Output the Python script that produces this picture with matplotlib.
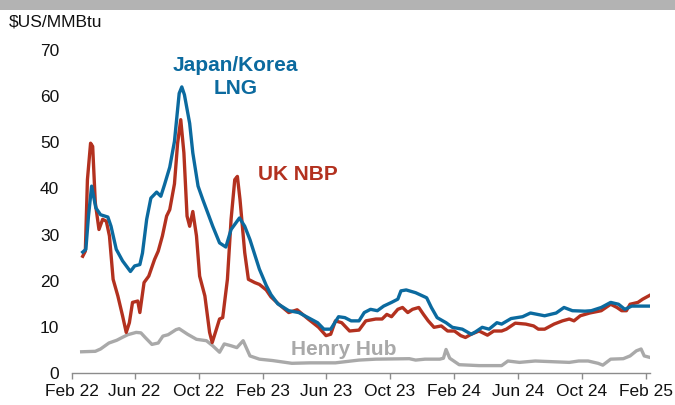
import matplotlib
matplotlib.use("Agg")
import matplotlib.pyplot as plt
import matplotlib.dates as mdates
import pandas as pd

plt.rcParams["font.family"] = ["Liberation Sans", "DejaVu Sans"]

BLUE = "#0b6a9f"
RED = "#b3311f"
GREY = "#a9a9a9"
TEXT_COLOR = "#111111"

# Japan/Korea LNG, $US/MMBtu
lng_dates = [
    "2022-02-22", "2022-02-28", "2022-03-05", "2022-03-11", "2022-03-19", "2022-03-28",
    "2022-04-11", "2022-04-17", "2022-04-27", "2022-05-09", "2022-05-24", "2022-06-01",
    "2022-06-11", "2022-06-16", "2022-06-24", "2022-07-02", "2022-07-13", "2022-07-21",
    "2022-07-28", "2022-08-07", "2022-08-16", "2022-08-25", "2022-08-30", "2022-09-04",
    "2022-09-14", "2022-09-20", "2022-09-30", "2022-10-09", "2022-10-28", "2022-11-10",
    "2022-11-22", "2022-12-02", "2022-12-18", "2022-12-28", "2023-01-07", "2023-01-25",
    "2023-02-07", "2023-02-16", "2023-03-01", "2023-03-22", "2023-04-10", "2023-04-28",
    "2023-05-16", "2023-05-28", "2023-06-10", "2023-06-25", "2023-07-07", "2023-07-19",
    "2023-08-03", "2023-08-13", "2023-08-25", "2023-09-07", "2023-09-19", "2023-10-04",
    "2023-10-16", "2023-10-22", "2023-11-01", "2023-11-19", "2023-12-10", "2023-12-19",
    "2023-12-30", "2024-01-16", "2024-01-28", "2024-02-16", "2024-03-04", "2024-03-12",
    "2024-03-25", "2024-04-07", "2024-04-22", "2024-05-01", "2024-05-19", "2024-06-10",
    "2024-06-25", "2024-07-22", "2024-08-13", "2024-08-28", "2024-09-13", "2024-10-07",
    "2024-10-19", "2024-11-07", "2024-11-25", "2024-12-10", "2024-12-22", "2025-01-04",
    "2025-02-07",
]
lng_values = [
    26.2, 26.8, 34.0, 40.5, 35.8, 34.3,
    33.8, 31.8, 26.8, 24.3, 22.0, 23.2,
    23.5, 26.0, 33.3, 37.9, 39.2, 38.3,
    40.8, 44.6, 50.2, 60.6, 62.0, 60.3,
    54.1, 47.7, 40.5, 37.6, 31.8, 28.2,
    27.3, 31.1, 33.6, 31.8, 28.9, 22.5,
    19.0, 17.0, 15.0, 13.5, 13.1, 12.0,
    10.9, 9.5, 9.5, 12.2, 12.0, 11.3,
    11.3, 13.1, 13.8, 13.5, 14.5, 15.3,
    16.0, 17.8, 18.0, 17.4, 16.3, 14.2,
    12.0, 10.9, 9.9, 9.5, 8.4, 8.9,
    9.9, 9.5, 10.9, 10.6, 11.8, 12.2,
    13.0, 12.4, 13.0, 14.2, 13.5, 13.4,
    13.5, 14.2, 15.3, 14.9, 13.8, 14.5,
    14.5,
]

# UK NBP
nbp_dates = [
    "2022-02-22", "2022-02-27", "2022-03-03", "2022-03-09", "2022-03-13", "2022-03-18",
    "2022-03-25", "2022-04-01", "2022-04-08", "2022-04-14", "2022-04-21", "2022-04-30",
    "2022-05-09", "2022-05-16", "2022-05-22", "2022-05-28", "2022-06-07", "2022-06-11",
    "2022-06-19", "2022-06-28", "2022-07-09", "2022-07-16", "2022-07-24", "2022-08-01",
    "2022-08-07", "2022-08-16", "2022-08-22", "2022-08-28", "2022-09-03", "2022-09-09",
    "2022-09-14", "2022-09-20", "2022-09-27", "2022-10-03", "2022-10-13", "2022-10-22",
    "2022-10-27", "2022-11-04", "2022-11-10", "2022-11-16", "2022-11-25", "2022-12-02",
    "2022-12-09", "2022-12-14", "2022-12-19", "2022-12-28", "2023-01-04", "2023-01-16",
    "2023-01-25", "2023-02-07", "2023-02-16", "2023-03-03", "2023-03-22", "2023-04-07",
    "2023-04-28", "2023-05-18", "2023-06-01", "2023-06-10", "2023-06-19", "2023-07-01",
    "2023-07-16", "2023-08-03", "2023-08-16", "2023-09-04", "2023-09-16", "2023-09-25",
    "2023-10-04", "2023-10-16", "2023-10-25", "2023-11-04", "2023-11-13", "2023-11-25",
    "2023-12-04", "2023-12-13", "2023-12-24", "2024-01-07", "2024-01-19", "2024-02-01",
    "2024-02-13", "2024-02-22", "2024-03-04", "2024-03-19", "2024-04-04", "2024-04-16",
    "2024-05-01", "2024-05-10", "2024-05-27", "2024-06-16", "2024-07-01", "2024-07-10",
    "2024-07-22", "2024-08-09", "2024-08-25", "2024-09-07", "2024-09-16", "2024-09-28",
    "2024-10-16", "2024-11-07", "2024-11-25", "2024-12-07", "2024-12-16", "2024-12-25",
    "2025-01-01", "2025-01-16", "2025-01-25", "2025-02-07",
]
nbp_values = [
    25.3, 26.4, 41.9, 49.8, 49.1, 36.9,
    31.1, 33.3, 32.9, 29.7, 20.3, 16.7,
    12.4, 8.8, 10.9, 15.3, 15.6, 13.1,
    19.6, 21.0, 24.6, 26.4, 29.7, 34.0,
    35.4, 41.0, 49.8, 54.9, 47.7, 34.0,
    31.8, 35.0, 29.7, 21.0, 16.7, 8.8,
    6.6, 9.5, 11.7, 12.0, 20.3, 33.3,
    41.9, 42.6, 37.6, 26.1, 20.3, 19.6,
    19.2, 18.0, 16.5, 14.9, 13.1, 13.7,
    11.7, 9.9, 8.1, 8.4, 11.3, 10.9,
    9.1, 9.3, 11.3, 11.7, 11.7, 12.7,
    12.2, 13.8, 14.2, 13.1, 13.8, 14.2,
    12.7, 11.3, 9.9, 10.2, 9.1, 9.1,
    8.1, 7.7, 8.4, 9.1, 8.2, 9.1,
    9.1, 9.5, 10.8, 10.6, 10.2, 9.5,
    9.5, 10.6, 11.3, 11.7, 11.3, 12.4,
    13.0, 13.5, 14.9, 14.2, 13.5, 13.5,
    14.9, 15.3, 16.0, 16.8,
]

# Henry Hub
hh_dates = [
    "2022-02-20", "2022-03-18", "2022-03-28", "2022-04-13", "2022-04-28", "2022-05-10",
    "2022-05-19", "2022-06-04", "2022-06-13", "2022-06-22", "2022-07-04", "2022-07-16",
    "2022-07-25", "2022-08-04", "2022-08-19", "2022-08-25", "2022-09-10", "2022-09-27",
    "2022-10-16", "2022-10-28", "2022-11-10", "2022-11-19", "2022-12-02", "2022-12-13",
    "2022-12-25", "2023-01-07", "2023-01-25", "2023-02-19", "2023-03-28", "2023-05-01",
    "2023-06-19", "2023-08-03", "2023-09-04", "2023-11-07", "2023-11-19", "2023-12-07",
    "2024-01-04", "2024-01-11", "2024-01-16", "2024-01-23", "2024-02-10", "2024-03-19",
    "2024-05-01", "2024-05-13", "2024-06-04", "2024-07-04", "2024-09-07", "2024-09-25",
    "2024-10-13", "2024-11-01", "2024-11-10", "2024-11-25", "2024-12-19", "2025-01-01",
    "2025-01-13", "2025-01-22", "2025-01-28", "2025-02-07",
]
hh_values = [
    4.6, 4.7, 5.2, 6.5, 7.1, 7.8,
    8.3, 8.8, 8.7, 7.6, 6.2, 6.5,
    8.0, 8.3, 9.4, 9.6, 8.4, 7.3,
    7.0, 5.9, 4.5, 6.3, 5.9, 5.5,
    7.0, 3.7, 3.0, 2.7, 2.1, 2.2,
    2.2, 2.8, 3.0, 3.1, 2.8, 3.0,
    3.0, 3.2, 5.1, 3.2, 1.8, 1.6,
    1.6, 2.6, 2.3, 2.6, 2.3, 2.6,
    2.6, 2.1, 1.7, 3.0, 3.1, 3.7,
    4.8, 5.2, 3.7, 3.4,
]

y_ticks = [0, 10, 20, 30, 40, 50, 60, 70]

fig = plt.figure(figsize=(6.75, 4.05), dpi=100)
fig.patch.set_facecolor("white")
# cropped grey title band at top
fig.patches.append(plt.Rectangle((0, 1 - 10 / 405), 1, 10 / 405, transform=fig.transFigure,
                                 facecolor="#b3b3b3", edgecolor="none"))

ax = fig.add_axes([71.7 / 675, 32 / 405, (650 - 71.7) / 675, 323 / 405])

ax.plot(pd.to_datetime(hh_dates), hh_values, color=GREY, linewidth=2.4, zorder=2)
ax.plot(pd.to_datetime(nbp_dates), nbp_values, color=RED, linewidth=2.4, zorder=3)
ax.plot(pd.to_datetime(lng_dates), lng_values, color=BLUE, linewidth=2.4, zorder=4)

ax.set_xlim(pd.Timestamp("2022-02-01"), pd.Timestamp("2025-02-08"))
ax.set_ylim(0, 70)
ax.set_yticks(y_ticks)

ax.xaxis.set_major_locator(mdates.MonthLocator(bymonth=[2, 6, 10]))
ax.xaxis.set_major_formatter(mdates.DateFormatter("%b %y"))

for s in ["top", "right", "left"]:
    ax.spines[s].set_visible(False)
ax.spines["bottom"].set_color("#8c8c8c")
ax.spines["bottom"].set_linewidth(1.0)
ax.tick_params(axis="x", direction="out", length=4, width=1.0, color="#8c8c8c",
               labelsize=12.5, labelcolor=TEXT_COLOR, pad=4)
ax.tick_params(axis="y", length=0, labelsize=12.5, labelcolor=TEXT_COLOR, pad=9)

fig.text(9 / 675, 1 - 22 / 405, "$US/MMBtu", fontsize=12.5, color=TEXT_COLOR,
         ha="left", va="center")

ax.text(pd.Timestamp("2022-12-10"), 64.2, "Japan/Korea\nLNG", color=BLUE, fontsize=15,
        fontweight="bold", ha="center", va="center", linespacing=1.3)
ax.text(pd.Timestamp("2023-04-08"), 43.0, "UK NBP", color=RED, fontsize=15,
        fontweight="bold", ha="center", va="center")
ax.text(pd.Timestamp("2023-07-05"), 5.1, "Henry Hub", color=GREY, fontsize=15,
        fontweight="bold", ha="center", va="center")

fig.savefig("out.png", dpi=100, facecolor="white")
plt.close(fig)
